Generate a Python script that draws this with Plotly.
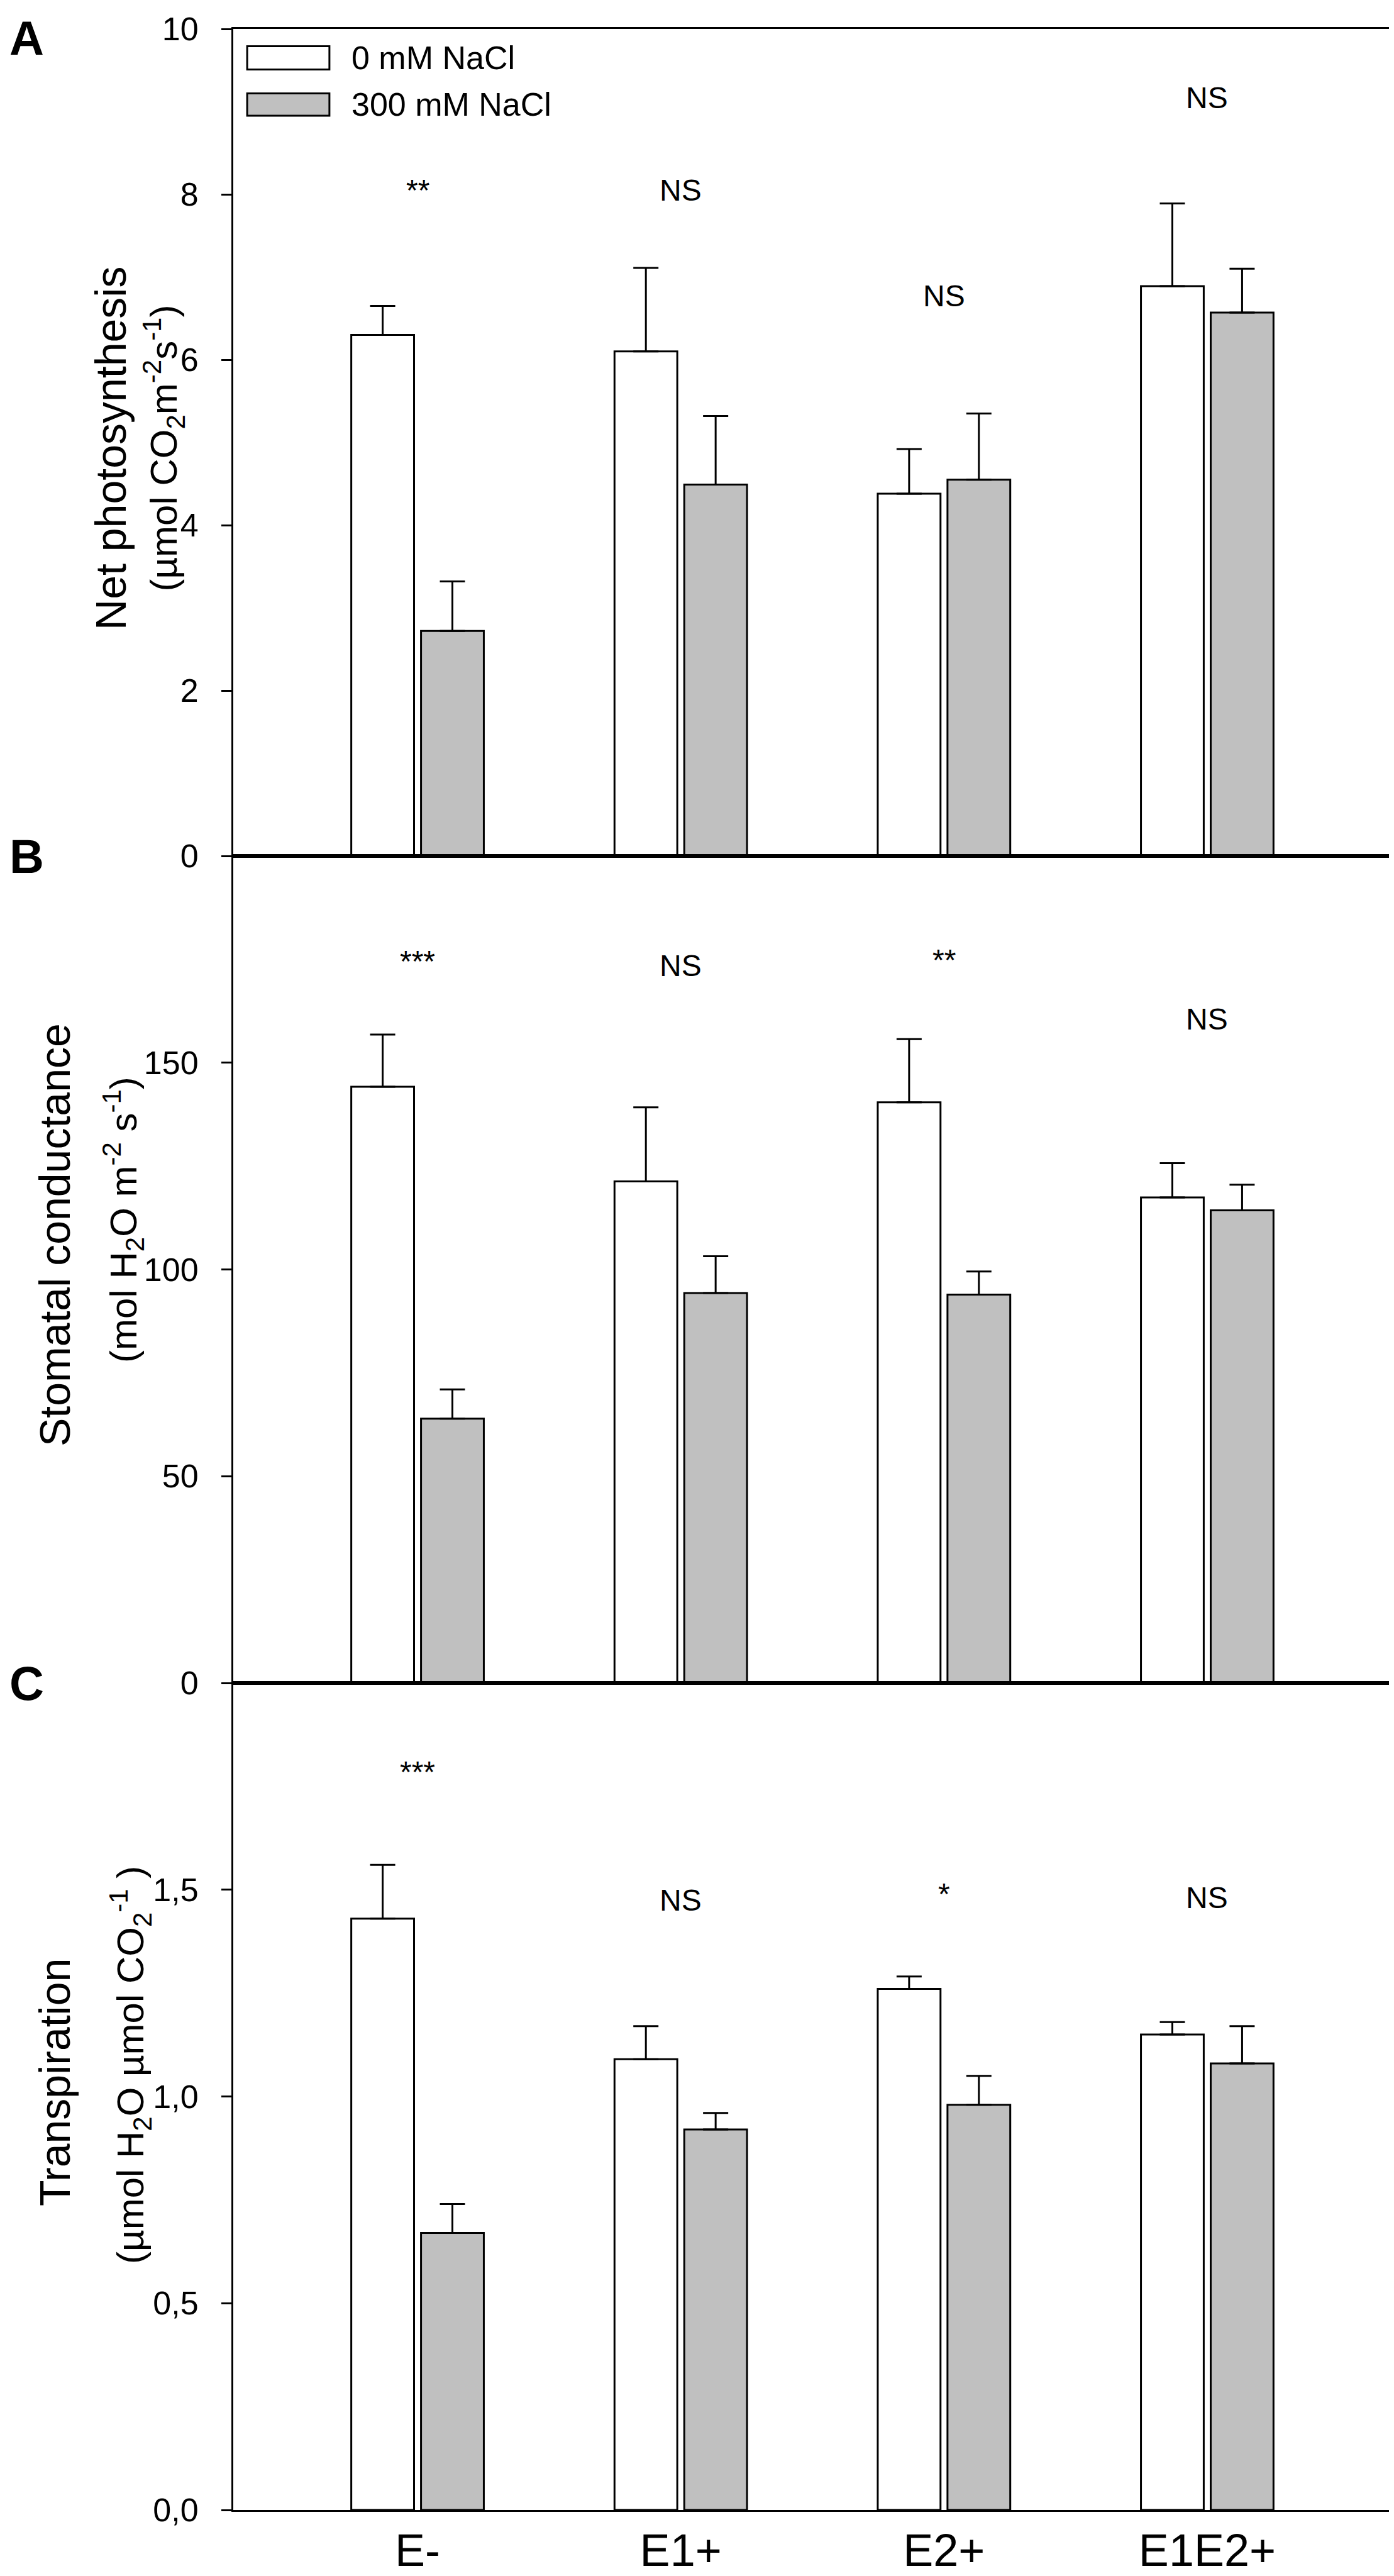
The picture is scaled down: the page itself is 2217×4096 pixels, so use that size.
import plotly.graph_objects as go
from plotly.subplots import make_subplots

FONT = 'Liberation Sans, Arial, sans-serif'

treatments = ['E-', 'E1+', 'E2+', 'E1E2+']
series_names = ['0 mM NaCl', '300 mM NaCl']
series_colors = ['white', '#c0c0c0']

# A: net photosynthesis
photo_0 = [6.30, 6.10, 4.38, 6.89]
photo_0_err = [0.35, 1.01, 0.54, 1.00]
photo_300 = [2.72, 4.49, 4.55, 6.57]
photo_300_err = [0.60, 0.83, 0.80, 0.53]
photo_sig = ['**', 'NS', 'NS', 'NS']
photo_sig_y = [8.05, 8.05, 6.77, 9.17]

# B: stomatal conductance
cond_0 = [144.2, 121.3, 140.4, 117.4]
cond_0_err = [12.6, 17.9, 15.3, 8.3]
cond_300 = [63.9, 94.3, 93.9, 114.3]
cond_300_err = [7.1, 8.9, 5.6, 6.2]
cond_sig = ['***', 'NS', '**', 'NS']
cond_sig_y = [174.6, 173.5, 174.8, 160.6]

# C: transpiration
trans_0 = [1.43, 1.09, 1.26, 1.15]
trans_0_err = [0.13, 0.08, 0.03, 0.03]
trans_300 = [0.67, 0.92, 0.98, 1.08]
trans_300_err = [0.07, 0.04, 0.07, 0.09]
trans_sig = ['***', 'NS', '*', 'NS']
trans_sig_y = [1.785, 1.475, 1.49, 1.481]

panels = [
  (photo_0, photo_0_err, photo_300, photo_300_err, photo_sig, photo_sig_y),
  (cond_0, cond_0_err, cond_300, cond_300_err, cond_sig, cond_sig_y),
  (trans_0, trans_0_err, trans_300, trans_300_err, trans_sig, trans_sig_y),
]

titles = ['Net photosynthesis', 'Stomatal conductance', 'Transpiration']
subtitles = [
  '(µmol CO<sub>2</sub>m<sup>-2</sup>s<sup>-1</sup>)',
  '(mol H<sub>2</sub>O m<sup>-2</sup> s<sup>-1</sup>)',
  '(µmol H<sub>2</sub>O µmol CO<sub>2</sub><sup>-1</sup> )',
]
panel_letters = ['A', 'B', 'C']

fig = make_subplots(rows=3, cols=1, shared_xaxes=True, vertical_spacing=0)

for row, (v0, e0, v1, e1, sig, sig_y) in enumerate(panels, start=1):
  for vals, errs, name, color in ((v0, e0, series_names[0], series_colors[0]),
                                   (v1, e1, series_names[1], series_colors[1])):
    fig.add_trace(
      go.Bar(
        x=treatments,
        y=vals,
        name=name,
        showlegend=False,
        marker=dict(color=color, line=dict(color='black', width=3)),
        error_y=dict(
          type='data',
          array=errs,
          arrayminus=[0] * len(errs),
          symmetric=False,
          color='black',
          thickness=3,
          width=20,
        ),
      ),
      row=row, col=1
    )
  for t, label, y in zip(treatments, sig, sig_y):
    fig.add_annotation(x=t, y=y, text=label, showarrow=False,
                       font=dict(size=48), row=row, col=1)

fig.update_layout(
  width=2217,
  height=4096,
  margin=dict(l=363, r=9, t=25, b=92),
  plot_bgcolor='white',
  paper_bgcolor='white',
  barmode='group',
  bargap=0.47,
  bargroupgap=0.1,
  separators=',.',
  font=dict(family=FONT, color='black', size=52),
)

fig.update_xaxes(
  range=[-0.7, 3.7],
  showline=True,
  mirror=True,
  linecolor='black',
  linewidth=3,
  ticks='',
  showgrid=False,
  zeroline=False,
  tickfont=dict(family=FONT, size=72),
)

axis_style = dict(
  showline=True,
  mirror=True,
  linecolor='black',
  linewidth=3,
  ticks='outside',
  ticklen=16,
  tickwidth=3,
  tickcolor='black',
  showgrid=False,
  zeroline=False,
  tickfont=dict(family=FONT, size=52),
  ticklabelstandoff=26,
  ticklabeloverflow='allow',
)
fig.update_yaxes(range=[0, 10], tickvals=[0, 2, 4, 6, 8, 10], row=1, col=1, **axis_style)
fig.update_yaxes(range=[0, 200], tickvals=[0, 50, 100, 150], row=2, col=1, **axis_style)
fig.update_yaxes(range=[0, 2], tickvals=[0, 0.5, 1.0, 1.5], tickformat='.1f', row=3, col=1, **axis_style)

# axis titles (two lines, different sizes) and panel letters
title_x = [-0.128, -0.176, -0.176]
title_y = [0.493, 0.542, 0.517]
sub_x = [-0.084, -0.119, -0.113]
sub_y = [0.493, 0.560, 0.538]
letter_shift = [-14, 0, 0]
axis_ids = ['', '2', '3']
for i, ax in enumerate(axis_ids):
  fig.add_annotation(xref='x%s domain' % ax, yref='y%s domain' % ax,
                     x=title_x[i], y=title_y[i], text=titles[i], textangle=-90,
                     showarrow=False, font=dict(size=68))
  fig.add_annotation(xref='x%s domain' % ax, yref='y%s domain' % ax,
                     x=sub_x[i], y=sub_y[i], text=subtitles[i], textangle=-90,
                     showarrow=False, font=dict(size=60))
  # paper x=0 is the left edge of the plot area, so shift back into the margin
  fig.add_annotation(xref='paper', yref='y%s domain' % ax,
                     x=0, y=1.0, xshift=-329, yshift=letter_shift[i],
                     text='<b>%s</b>' % panel_letters[i],
                     showarrow=False, xanchor='center', yanchor='middle',
                     font=dict(size=76))

# legend drawn inside panel A
legend_rows = [(0.979, 0.951), (0.922, 0.895)]
for (y_top, y_bot), name, color in zip(legend_rows, series_names, series_colors):
  fig.add_shape(type='rect', xref='x domain', yref='y domain',
                x0=0.012, x1=0.083, y0=y_bot, y1=y_top,
                fillcolor=color, line=dict(color='black', width=3))
  fig.add_annotation(xref='x domain', yref='y domain', x=0.101, y=(y_top + y_bot) / 2,
                     text=name, showarrow=False, xanchor='left', yanchor='middle',
                     font=dict(size=52))

fig.write_html('out.html')
